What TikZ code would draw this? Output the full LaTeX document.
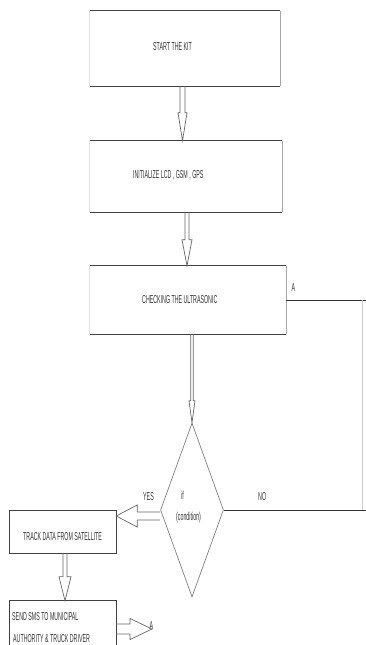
\documentclass[tikz,border=0pt]{standalone}
\usepackage{fontspec}
\setmainfont{Liberation Sans}[FakeStretch=0.46]
\usetikzlibrary{calc,shapes.geometric}
\newcommand\harrow[5]{%
  \coordinate (hs) at #1;
  \coordinate (he) at #2;
  \coordinate (hb) at ($(he)!#5!(hs)$);
  \draw[arrowline] ($(hs)!#3!90:(he)$) -- ($(hb)!#3!90:(he)$) -- ($(hb)!#4!90:(he)$) -- (he)
     -- ($(hb)!#4!-90:(he)$) -- ($(hb)!#3!-90:(he)$) -- ($(hs)!#3!-90:(he)$);
}
\begin{document}
\begin{tikzpicture}[x=1pt,y=-1pt,
  box/.style={inner sep=0, draw=none},
  hedge/.style={draw=black!75, line width=1.3pt},
  redge/.style={draw=black!35, line width=0.8pt},
  ledge/.style={draw=black!12, line width=0.8pt},
  sedge/.style={draw=black!75, line width=1pt},
  lbl/.style={inner sep=0, anchor=west, text=black!80, font=\fontsize{11.5}{13}\selectfont},
  arrowline/.style={draw=black!60, line width=0.7pt, line join=miter},
  flow/.style={draw=black!80, line width=1pt},
  faint/.style={draw=black!20, line width=0.8pt},
  dec/.style={diamond, draw=black!50, line width=0.7pt, inner sep=0, minimum width=63pt, minimum height=174pt}
]
\useasboundingbox (0,0) rectangle (366,645);
\clip (0,0) rectangle (366,645);
\fill[white] (0,0) rectangle (366,645);

\node[box, minimum width=190pt, minimum height=75pt] (b1) at (185,48.5) {};
\node[box, minimum width=192pt, minimum height=71pt] (b2) at (186,176.5) {};
\node[box, minimum width=196pt, minimum height=68pt] (b3) at (188,300) {};
\node[dec] (d) at (192,510) {};
\node[box, minimum width=106pt, minimum height=42pt] (tr) at (63,532) {};
\node[box, minimum width=106pt, minimum height=59pt] (sms) at (63,630.5) {};

\foreach \b in {b1,b2,b3}{
  \draw[ledge] (\b.north west) -- (\b.south west);
  \draw[redge] (\b.north east) -- (\b.south east);
  \draw[hedge] (\b.north west) -- (\b.north east);
  \draw[hedge] (\b.south west) -- (\b.south east);
}
\draw[sedge] (tr.north west) rectangle (tr.south east);
\draw[sedge] (sms.north west) rectangle (sms.south east);

\node[lbl] (t1) at (153,47) {START THE KIT};
\node[lbl] (t2) at (133,175) {INITIALIZE LCD , GSM , GPS};
\node[lbl] (t3) at (142,300) {CHECKING THE ULTRASONIC};
\node[lbl] (ta) at (291.5,288) {A};
\node[lbl] (tif) at (181,495) {if};
\node[lbl] (tcond) at (176,518) {(condition)};
\node[lbl] (tyes) at (143,497) {YES};
\node[lbl] (tno) at (258,497) {NO};
\node[lbl] (ttr) at (23,537) {TRACK DATA FROM SATELLITE};
\node[lbl] (ts1) at (12,617) {SEND SMS TO MUNICIPAL};
\node[lbl] (ts2) at (13,639) {AUTHORITY \& TRUCK DRIVER};
\node[lbl] (ta2) at (149.5,626) {A};

\coordinate (R) at (366,0);
\coordinate (V) at (362,0);
\coordinate (cA) at (152,629);

\harrow{($(b1.south)+(-2.5,0)$)}{($(b1.south |- b2.north)+(-2.5,0)$)}{2.5pt}{4.5pt}{28pt}
\harrow{($(b2.south)+(1,0)$)}{($(b2.south |- b3.north)+(1,0)$)}{2pt}{5pt}{26pt}
\harrow{(d.north |- b3.south)}{(d.north)}{1.3pt}{3pt}{22pt}
\harrow{($(d.west)+(0,6)$)}{($(d.west -| tr.east)+(0,6)$)}{4pt}{11pt}{21pt}
\harrow{($(tr.south)+(2,0)$)}{($(tr.south |- sms.north)+(2,0)$)}{2pt}{6pt}{24pt}
\harrow{(sms.east |- cA)}{(cA)}{5pt}{10.5pt}{22pt}

\draw[flow] (b3.east) -- (b3.east -| R);
\draw[faint] (b3.east -| V) -- (d.east -| V);
\draw[flow] (d.east) -- (d.east -| R);
\end{tikzpicture}
\end{document}
